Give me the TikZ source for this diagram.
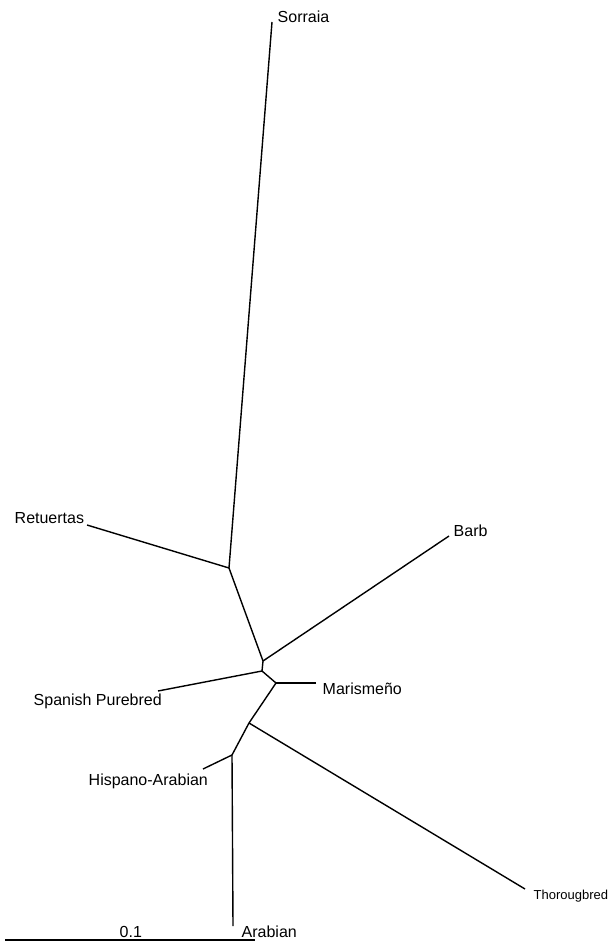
\documentclass[tikz,border=0pt]{standalone}
\usepackage{fontspec}
\setmainfont{Liberation Sans}
\begin{document}
\begin{tikzpicture}[x=1pt,y=-1pt,line width=1.4pt,
	lbl/.style={anchor=base west,inner sep=0pt,font=\fontsize{16}{18}\selectfont}]
				\useasboundingbox (0,0) rectangle (607,941);
				\coordinate (J1) at (229,568);
				\coordinate (J2) at (263,661);
				\coordinate (J3) at (262,671);
				\coordinate (J4) at (276,683);
				\coordinate (J5) at (249,723);
				\coordinate (J6) at (232,755);
				\coordinate (S) at (272,22);
				\coordinate (R) at (87,525);
				\coordinate (B) at (449,536);
				\coordinate (SP) at (158,691);
				\coordinate (M) at (316,683);
				\coordinate (T) at (525,889);
				\coordinate (HA) at (203,769);
				\coordinate (A) at (233,926);
				\coordinate (L1) at (5,940);
				\coordinate (L2) at (255,940);
				% tree
				\draw (S) -- (J1);
				\draw (R) -- (J1);
				\draw (J1) -- (J2);
				\draw (B) -- (J2);
				\draw (J2) -- (J3);
				\draw (SP) -- (J3);
				\draw (J3) -- (J4);
				\draw (M) -- (J4);
				\draw (J4) -- (J5);
				\draw (T) -- (J5);
				\draw (J5) -- (J6);
				\draw (HA) -- (J6);
				\draw (A) -- (J6);
				% scale
				\draw (L1) -- (L2);
				\node[lbl] (nS) at (277,23) {Sorraia};
				\node[lbl] (nR) at (14,523) {Retuertas};
				\node[lbl] (nB) at (453,536) {Barb};
				\node[lbl] (nSP) at (33,705) {Spanish Purebred};
				\node[lbl] (nM) at (322,694) {Marismeño};
				\node[lbl] (nHA) at (88,785) {Hispano-Arabian};
				\node[lbl,font=\fontsize{13}{15}\selectfont] (nT) at (533,899) {Thorougbred};
				\node[lbl] (nA) at (241,937) {Arabian};
				\node[lbl] (nL) at (119,937) {0.1};
			\end{tikzpicture}
\end{document}
